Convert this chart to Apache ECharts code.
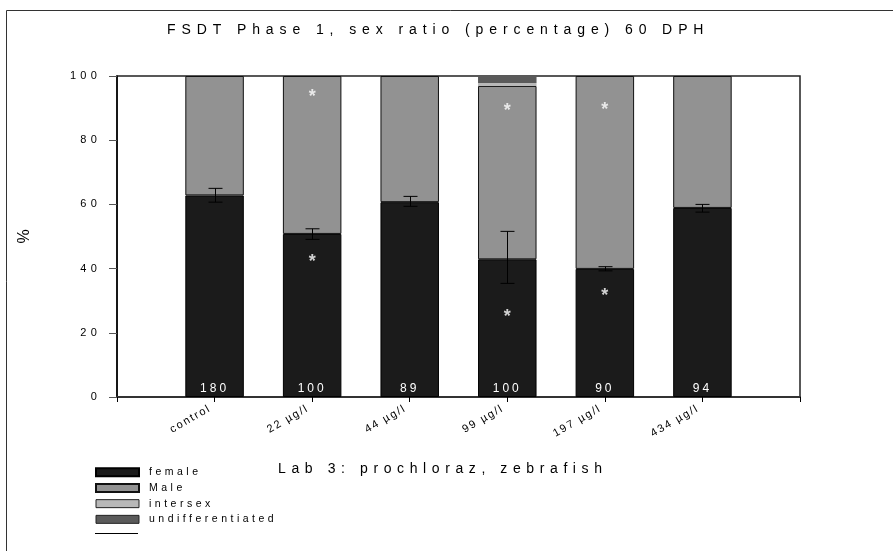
<!DOCTYPE html>
<html><head><meta charset="utf-8">
<script src="https://cdn.jsdelivr.net/npm/echarts@6/dist/echarts.min.js"></script>
<style>html,body{margin:0;padding:0;background:#fff}#c{width:893px;height:551px}</style>
</head><body><div id="c"></div>
<script>
// letter-spacing support: a family token "lsN" / "lsNpM" in the font list sets canvas letterSpacing
(function(){
  var P = window.CanvasRenderingContext2D && CanvasRenderingContext2D.prototype;
  if (!P || !('letterSpacing' in P)) return;
  var d = Object.getOwnPropertyDescriptor(P, 'font');
  if (!d || !d.set) return;
  Object.defineProperty(P, 'font', {
    configurable: true,
    get: function(){ return d.get.call(this); },
    set: function(v){
      d.set.call(this, v);
      var m = /\bls(\d+(?:p\d+)?)\b/.exec(String(v));
      this.letterSpacing = m ? m[1].replace('p', '.') + 'px' : '0px';
    }
  });
})();

const categories = ['control', '22 µg/l', '44 µg/l', '99 µg/l', '197 µg/l', '434 µg/l'];
const female = [62.8, 50.8, 60.7, 42.9, 39.9, 58.9];
const male = [37.2, 49.2, 39.3, 54.0, 60.1, 41.1];
const intersex = [0, 0, 0, 0.9, 0, 0];
const undifferentiated = [0, 0, 0, 2.2, 0, 0];
const errLow = [60.7, 49.1, 59.4, 35.4, 39.3, 57.6];
const errHigh = [65.0, 52.4, 62.5, 51.6, 40.6, 60.0];
const sampleSize = [180, 100, 89, 100, 90, 94];
const starCategory = ['22 µg/l', '22 µg/l', '99 µg/l', '99 µg/l', '197 µg/l', '197 µg/l'];
const starValue = [95, 43.5, 90.7, 26.4, 91, 33.1];
const yMin = 0, yMax = 100, yStep = 20;

const FONT = 'Liberation Sans, Arial, sans-serif';
const axisCats = ['', ...categories, ' '];
const pad = arr => [null, ...arr, null];

const chart = echarts.init(document.getElementById('c'), null, {renderer: 'canvas'});
chart.setOption({
  animation: false,
  backgroundColor: '#fff',
  textStyle: {fontFamily: FONT, color: '#000'},
  title: [
    {text: 'FSDT Phase 1, sex ratio (percentage) 60 DPH', left: 167, top: 20, padding: 0,
     textStyle: {fontSize: 14, fontWeight: 'normal', color: '#000', fontFamily: 'ls5p9, ' + FONT}},
    {text: 'Lab 3: prochloraz, zebrafish', left: 278, top: 459, padding: 0,
     textStyle: {fontSize: 14, fontWeight: 'normal', color: '#000', fontFamily: 'ls5p6, ' + FONT}}
  ],
  legend: {
    orient: 'vertical', left: 95, top: 465, padding: 0,
    itemWidth: 43, itemHeight: 8, itemGap: 1.2, selectedMode: false, icon: 'rect',
    textStyle: {fontSize: 10.5, color: '#000', fontFamily: 'ls3p5, ' + FONT, padding: [0, 0, 0, 5]},
    data: [
      {name: 'female'},
      {name: 'Male'},
      {name: 'intersex', itemStyle: {borderColor: '#222', borderWidth: 1}},
      {name: 'undifferentiated', itemStyle: {borderColor: '#222', borderWidth: 1}}
    ]
  },
  grid: {left: 117, right: 93, top: 76, bottom: 154, show: true, borderColor: '#222', borderWidth: 1.5, backgroundColor: 'transparent'},
  xAxis: {
    type: 'category', data: axisCats, boundaryGap: false,
    axisLine: {lineStyle: {color: '#333', width: 2}},
    axisTick: {show: true, length: 5, lineStyle: {color: '#000'}},
    axisLabel: {interval: 0, rotate: 30, margin: 8, fontSize: 11, color: '#000', fontFamily: 'ls1p8, ' + FONT, padding: [0, 5, 0, 0]},
    splitLine: {show: false}
  },
  yAxis: {
    type: 'value', min: yMin, max: yMax, interval: yStep,
    name: '%', nameLocation: 'middle', nameGap: 84, nameRotate: 90,
    nameTextStyle: {fontSize: 16, color: '#000', fontFamily: FONT},
    axisLine: {show: true, lineStyle: {color: '#000', width: 1.5}},
    axisTick: {show: true, length: 8, lineStyle: {color: '#555'}},
    axisLabel: {fontSize: 11, color: '#000', margin: 16, fontFamily: 'ls4p2, ' + FONT},
    splitLine: {show: false}
  },
  graphic: [
    {type: 'rect', shape: {x: 6.5, y: 10.5, width: 1000, height: 1000}, style: {fill: 'none', stroke: '#333', lineWidth: 1}, silent: true, z: -1},
    {type: 'line', shape: {x1: 95, y1: 533.5, x2: 138, y2: 533.5}, style: {stroke: '#000', lineWidth: 1}, silent: true}
  ],
  series: [
    {name: 'female', type: 'bar', stack: 's', barWidth: 58.5, data: pad(female),
     itemStyle: {color: '#1b1b1b', borderColor: '#000', borderWidth: 1},
     label: {show: true, position: 'insideBottom', distance: 1, color: '#fff', fontSize: 12,
       fontFamily: 'ls3, ' + FONT,
       formatter: p => (p.dataIndex >= 1 && p.dataIndex <= sampleSize.length) ? String(sampleSize[p.dataIndex - 1]) : ''}},
    {name: 'Male', type: 'bar', stack: 's', barWidth: 58.5, data: pad(male),
     itemStyle: {color: '#929292', borderColor: '#111', borderWidth: 1}},
    {name: 'intersex', type: 'bar', stack: 's', barWidth: 58.5, data: pad(intersex),
     itemStyle: {color: '#b8b8b8', borderWidth: 0}},
    {name: 'undifferentiated', type: 'bar', stack: 's', barWidth: 58.5, data: pad(undifferentiated),
     itemStyle: {color: '#5a5a5a', borderWidth: 0}},
    {name: 'err', type: 'custom', z: 5,
     data: errLow.map((lo, i) => [i + 1, lo, errHigh[i]]),
     encode: {x: 0, y: [1, 2]},
     renderItem: function(params, api){
       const x = api.value(0), lo = api.value(1), hi = api.value(2);
       const a = api.coord([x, lo]), b = api.coord([x, hi]);
       const hw = 7, st = {stroke: '#000', lineWidth: 1};
       const cx = Math.round(a[0]) + 0.5;
       return {type: 'group', children: [
         {type: 'line', shape: {x1: cx, y1: b[1], x2: cx, y2: a[1]}, style: st},
         {type: 'line', shape: {x1: cx - hw, y1: b[1], x2: cx + hw, y2: b[1]}, style: st},
         {type: 'line', shape: {x1: cx - hw, y1: a[1], x2: cx + hw, y2: a[1]}, style: st}
       ]};
     }},
    {name: 'stars', type: 'scatter', z: 6, symbolSize: 0,
     data: starCategory.map((c, i) => [c, starValue[i]]),
     label: {show: true, position: 'inside', formatter: '*', color: '#fff', fontSize: 18, fontWeight: 'bold', offset: [0, 5]}}
  ]
});
</script></body></html>
